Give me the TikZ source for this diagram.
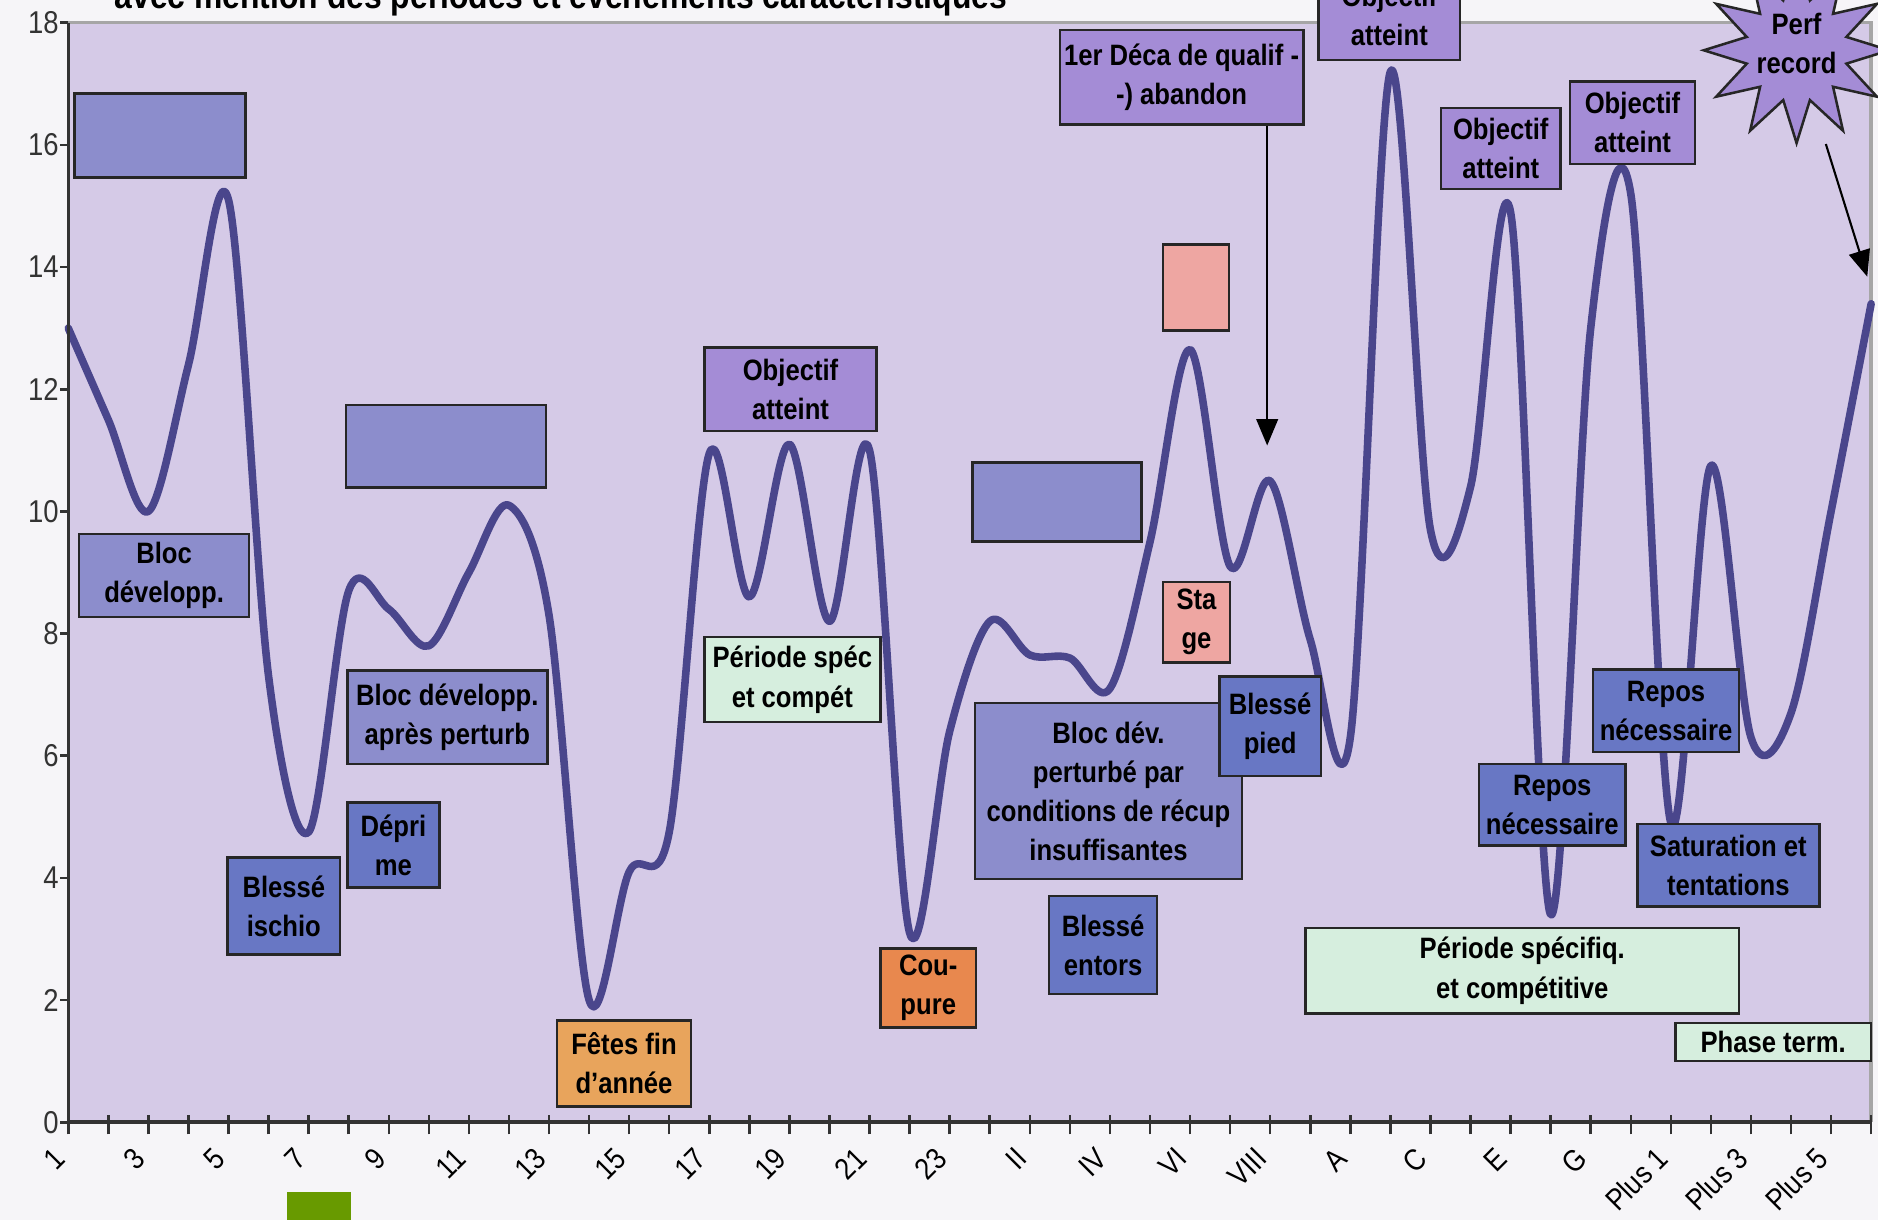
\documentclass[tikz,border=0pt]{standalone}
\usepackage{fontspec}
\setmainfont{Liberation Sans}[FakeStretch=0.87]
\usetikzlibrary{arrows.meta}
\usetikzlibrary{shapes.geometric}

\definecolor{plotbg}{RGB}{213,202,231}
\definecolor{pagebg}{RGB}{246,245,248}
\definecolor{curvecol}{RGB}{74,70,140}
\definecolor{bloccol}{RGB}{140,141,204}
\definecolor{objcol}{RGB}{164,140,214}
\definecolor{hurtcol}{RGB}{104,119,196}
\definecolor{feastcol}{RGB}{232,164,92}
\definecolor{cutcol}{RGB}{232,136,78}
\definecolor{stagecol}{RGB}{238,166,162}
\definecolor{speccol}{RGB}{214,238,222}
\definecolor{scangreen}{RGB}{104,154,0}

\tikzset{
  tag/.style={draw=black!85, line width=0.6pt, align=center, inner sep=1pt,
    font=\fontsize{7}{9.3}\selectfont\bfseries},
  bloctag/.style={tag, fill=bloccol},
  objtag/.style={tag, fill=objcol},
  hurttag/.style={tag, fill=hurtcol},
  feasttag/.style={tag, fill=feastcol},
  cuttag/.style={tag, fill=cutcol},
  stagetag/.style={tag, fill=stagecol},
  spectag/.style={tag, fill=speccol},
  curve/.style={curvecol, line width=1.8pt, line join=round, line cap=round},
  axis/.style={black!80, line width=0.6pt},
  frame/.style={gray!70, line width=0.8pt},
  ylab/.style={font=\fontsize{7.5}{9}\selectfont, inner sep=1pt},
  xlab/.style={rotate=45, anchor=east, inner sep=0pt, font=\fontsize{7.2}{8}\selectfont},
  pointer/.style={black, line width=0.5pt, -{Triangle[length=2.2mm,width=1.8mm]}},
}

\begin{document}
\begin{tikzpicture}
\useasboundingbox (0,0) rectangle (15.68,10.19);
\fill[pagebg] (0,0) rectangle (15.68,10.19);
\fill[scangreen] (2.40,0) rectangle (2.93,0.24);

\node[anchor=base west, inner sep=0pt, font=\fontsize{8.7}{10}\selectfont\bfseries] (title) at (0.95,10.12) {avec mention des périodes et événements caractéristiques};

\begin{scope}[shift={(0.57,0.82)}, x=0.3345cm, y=0.51cm]
\def\xmax{45}
\def\ymax{18}

\fill[plotbg] (0,0) rectangle (\xmax,\ymax);
\draw[frame] (0,\ymax) -- (\xmax,\ymax) -- (\xmax,0);

\draw[curve] plot[smooth,tension=0.55] coordinates {
  (0,13.0) (1,11.5) (2,10.0) (3,12.4) (4,15.1) (5,7.3) (6,4.75) (7,8.7)
  (8,8.4) (9,7.8) (10,9.0) (11,10.1) (12,8.3) (13,2.0) (14,4.1) (15,4.75)
  (16,10.95) (17,8.6) (18,11.1) (19,8.2) (20,11.0) (21,3.1) (22,6.4) (23,8.2)
  (24,7.65) (25,7.6) (26,7.1) (27,9.5) (28,12.65) (29,9.1) (30,10.5) (31,7.9)
  (32,6.3) (33,17.2) (34,9.7) (35,10.4) (36,14.9) (37,3.4) (38,13.0) (39,15.2)
  (40,4.9) (41,10.75) (42,6.3) (43,6.7) (44,10.0) (45,13.4)};

\draw[axis] (0,0) -- (0,\ymax);
\draw[axis, line width=0.9pt] (0,0) -- (\xmax,0);
\foreach \v in {0,2,...,18}
  \draw[axis] (-0.2,\v) -- (0,\v) node[left=1pt, ylab] (y\v) {\v};
\foreach \i in {0,...,\xmax}
  \draw[axis] (\i,-0.2) -- (\i,0.12);
\foreach \lab [count=\k from 0] in {1,3,5,7,9,11,13,15,17,19,21,23,II,IV,VI,VIII,A,C,E,G,Plus 1,Plus 3,Plus 5}
  \node[xlab] (x\k) at (2*\k-0.2,-0.5) {\lab};
\end{scope}

\node[bloctag, minimum width=1.43cm, minimum height=0.70cm] (blocA) at (1.335,9.06) {};
\node[bloctag, minimum width=1.42cm, minimum height=0.69cm] (bloc1) at (1.37,5.385) {Bloc\\développ.};
\node[bloctag, minimum width=1.67cm, minimum height=0.69cm] (blocB) at (3.725,6.465) {};
\node[bloctag, minimum width=1.67cm, minimum height=0.78cm] (bloc2) at (3.735,4.20) {Bloc développ.\\après perturb};
\node[hurttag, minimum width=0.77cm, minimum height=0.71cm] (depri) at (3.285,3.135) {Dépri\\me};
\node[hurttag, minimum width=0.94cm, minimum height=0.81cm] (ischio) at (2.37,2.625) {Blessé\\ischio};
\node[feasttag, minimum width=1.12cm, minimum height=0.72cm] (fetes) at (5.21,1.31) {Fêtes fin\\d'année};
\node[objtag, minimum width=1.44cm, minimum height=0.70cm] (obj1) at (6.60,6.94) {Objectif\\atteint};
\node[spectag, minimum width=1.47cm, minimum height=0.71cm] (spec1) at (6.615,4.515) {Période spéc\\et compét};
\node[cuttag, minimum width=0.80cm, minimum height=0.66cm] (coupure) at (7.75,1.94) {Cou-\\pure};
\node[bloctag, minimum width=1.41cm, minimum height=0.66cm] (blocC) at (8.825,6.00) {};
\node[bloctag, minimum width=2.23cm, minimum height=1.47cm] (bloc3) at (9.255,3.585) {Bloc dév.\\perturbé par\\conditions de récup\\insuffisantes};
\node[hurttag, minimum width=0.90cm, minimum height=0.82cm] (entors) at (9.21,2.30) {Blessé\\entors};
\node[objtag, minimum width=2.01cm, minimum height=0.79cm] (deca) at (9.865,9.545) {1er Déca de qualif -\\-) abandon};
\node[stagetag, minimum width=0.55cm, minimum height=0.72cm] (stageA) at (9.985,7.79) {};
\node[stagetag, minimum width=0.56cm, minimum height=0.67cm] (stage) at (9.99,4.995) {Sta\\ge};
\node[hurttag, minimum width=0.85cm, minimum height=0.83cm] (pied) at (10.605,4.125) {Blessé\\pied};
\node[objtag, minimum width=1.18cm, minimum height=0.74cm] (obj2) at (11.60,10.06) {Objectif\\atteint};
\node[objtag, minimum width=1.00cm, minimum height=0.68cm] (obj3) at (12.53,8.95) {Objectif\\atteint};
\node[objtag, minimum width=1.04cm, minimum height=0.69cm] (obj4) at (13.63,9.165) {Objectif\\atteint};
\node[spectag, minimum width=3.62cm, minimum height=0.71cm] (spec2) at (12.71,2.085) {Période spécifiq.\\et compétitive};
\node[hurttag, minimum width=1.22cm, minimum height=0.68cm] (repos1) at (12.96,3.47) {Repos\\nécessaire};
\node[hurttag, minimum width=1.22cm, minimum height=0.69cm] (repos2) at (13.91,4.255) {Repos\\nécessaire};
\node[hurttag, minimum width=1.52cm, minimum height=0.69cm] (satur) at (14.43,2.965) {Saturation et\\tentations};
\node[spectag, minimum width=1.63cm, minimum height=0.32cm] (phase) at (14.805,1.49) {Phase term.};

\node[star, star points=12, star point ratio=1.8, minimum size=1.55cm, inner sep=0pt,
  fill=objcol, draw=black!85, line width=0.6pt] (perf) at (15.00,9.77) {};
\node[tag, draw=none] (perftext) at (15.00,9.825) {Perf\\record};

\coordinate (decatip) at (10.58,6.47);
\coordinate (perftip) at (15.59,7.88);
\draw[pointer] (deca.south -| decatip) -- (decatip);
\draw[pointer, shorten <=0.82cm] (perf.center) -- (perftip);
\end{tikzpicture}
\end{document}
